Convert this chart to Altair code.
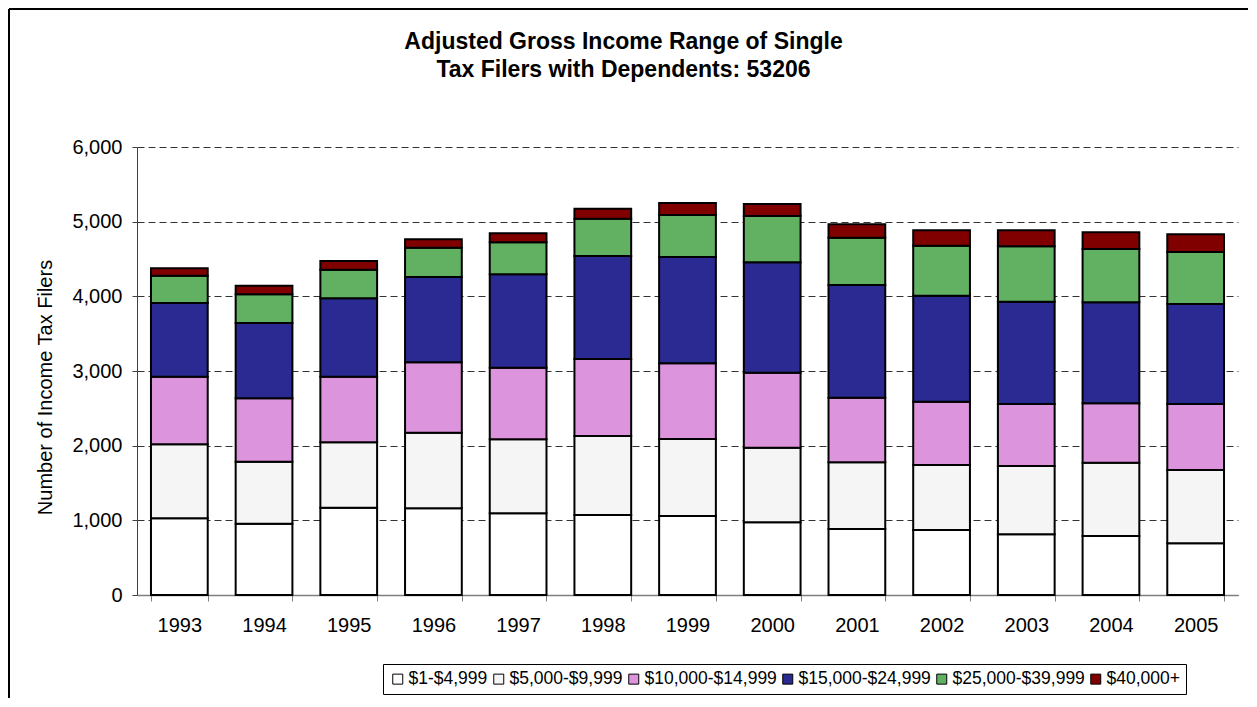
import altair as alt
import pandas as pd

years = ["1993", "1994", "1995", "1996", "1997", "1998", "1999",
         "2000", "2001", "2002", "2003", "2004", "2005"]
series_names = ["$1-$4,999", "$5,000-$9,999", "$10,000-$14,999",
                "$15,000-$24,999", "$25,000-$39,999", "$40,000+"]
s_1_4999 = [1027, 955, 1169, 1161, 1094, 1071, 1058, 974, 884, 870, 813, 790, 692]
s_5000_9999 = [991, 830, 876, 1013, 991, 1058, 1031, 999, 893, 871, 915, 982, 982]
s_10000_14999 = [906, 849, 879, 942, 959, 1032, 1014, 1004, 865, 848, 830, 795, 884]
s_15000_24999 = [986, 1009, 1050, 1143, 1251, 1379, 1424, 1479, 1510, 1419, 1370, 1353, 1339]
s_25000_39999 = [366, 384, 383, 392, 429, 500, 562, 620, 633, 670, 742, 714, 697]
s_40000_plus = [99, 115, 116, 113, 120, 133, 161, 160, 180, 206, 214, 223, 236]
colors = ["#ffffff", "#f5f5f5", "#dc94dc", "#2a2a92", "#62b062", "#800000"]
y_ticks = [0, 1000, 2000, 3000, 4000, 5000, 6000]

all_series = [s_1_4999, s_5000_9999, s_10000_14999, s_15000_24999, s_25000_39999, s_40000_plus]
rows = []
for k, (name, vals) in enumerate(zip(series_names, all_series)):
    for yr, v in zip(years, vals):
        rows.append({"Year": yr, "Range": name, "Filers": v, "order": k})
df = pd.DataFrame(rows)

FONT = "Liberation Sans"

bars = alt.Chart(df).mark_bar(stroke="black", strokeWidth=2).encode(
    x=alt.X("Year:N", sort=years,
            scale=alt.Scale(paddingInner=0.33, paddingOuter=0.165),
            axis=alt.Axis(title=None, labelAngle=0, tickBand="extent",
                          labelFontSize=20, labelFont=FONT, labelColor="black",
                          labelPadding=14, tickSize=6, tickColor="#808080",
                          domainColor="#808080", domainWidth=1.5, grid=False)),
    y=alt.Y("Filers:Q", stack="zero",
            scale=alt.Scale(domain=[0, 6000], nice=False),
            axis=alt.Axis(title="Number of Income Tax Filers", values=y_ticks,
                          format=",d", labelFontSize=20, labelFont=FONT,
                          labelColor="black", labelPadding=10, tickSize=5,
                          tickColor="#404040", domainColor="#404040",
                          grid=True, gridColor="#333333", gridDash=[7, 4],
                          gridWidth=1,
                          titleFont=FONT, titleFontSize=20, titleFontWeight="normal",
                          titleColor="black", titleAngle=-90, titleX=-92, titleY=240,
                          titleAlign="center", titleBaseline="middle")),
    color=alt.Color("Range:N", sort=series_names,
                    scale=alt.Scale(domain=series_names, range=colors),
                    legend=alt.Legend(title=None, orient="none", legendX=246, legendY=517,
                                      direction="horizontal", columns=6,
                                      symbolType="square", symbolSize=100,
                                      symbolStrokeColor="black", symbolStrokeWidth=1,
                                      labelFont=FONT, labelFontSize=17.5, labelColor="black",
                                      labelOffset=2, columnPadding=2,
                                      strokeColor="black", padding=6, fillColor="white")),
    order=alt.Order("order:Q", sort="ascending"),
)

frame_df = pd.DataFrame({"a": [0]})
frame_top = alt.Chart(frame_df).mark_rule(color="black", strokeWidth=2).encode(
    x=alt.value(-128), x2=alt.value(1111), y=alt.value(-138))
frame_left = alt.Chart(frame_df).mark_rule(color="black", strokeWidth=2).encode(
    x=alt.value(-128), y=alt.value(-138), y2=alt.value(551))

chart = alt.layer(bars, frame_top, frame_left).properties(
    width=1101, height=448,
    padding={"left": 129, "top": 139, "right": 11, "bottom": 104},
    autosize=alt.AutoSizeParams(type="none"),
    title=alt.TitleParams(
        text=["Adjusted Gross Income Range of Single", "Tax Filers with Dependents: 53206"],
        font=FONT, fontSize=23, fontWeight="bold", color="black", lineHeight=28,
        anchor="middle", frame="group", baseline="top", dx=-64, dy=51, offset=-23),
).configure_view(stroke="transparent")

chart.save("out.html", embed_options={"renderer": "svg", "actions": False})
